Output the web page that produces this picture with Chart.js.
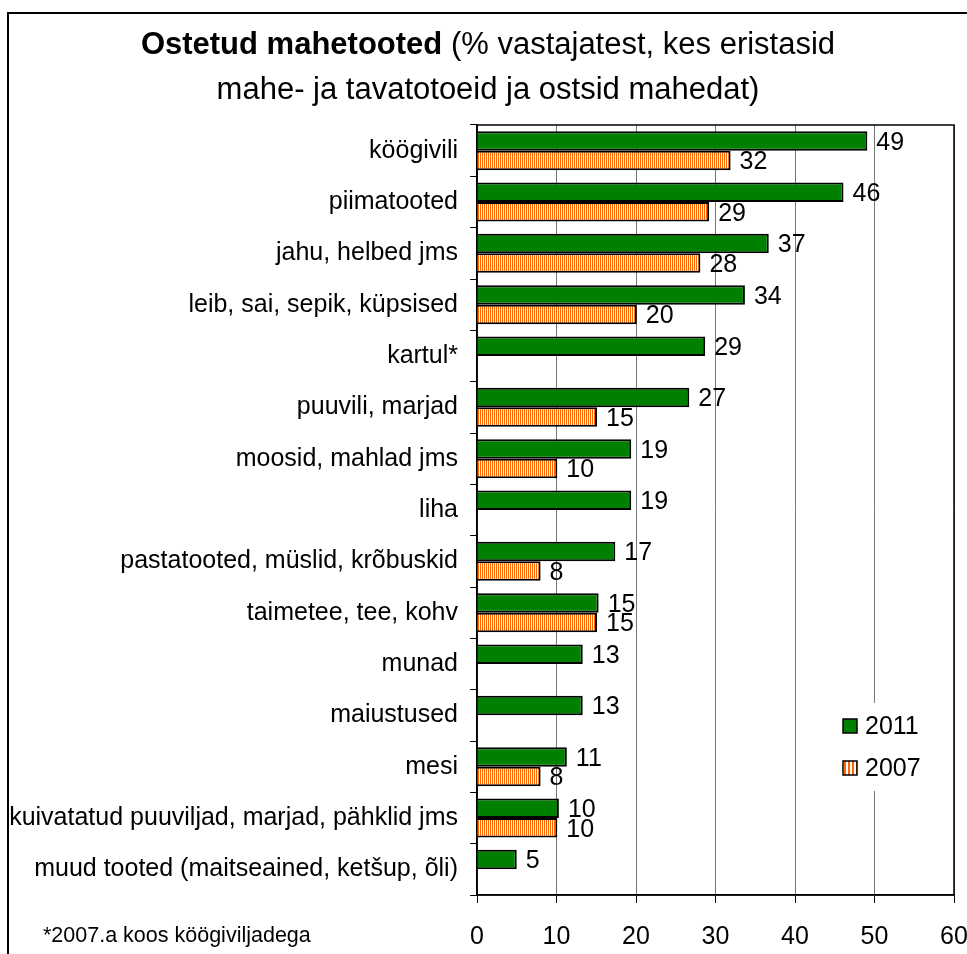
<!DOCTYPE html>
<html>
<head>
<meta charset="utf-8">
<script src="https://cdn.jsdelivr.net/npm/chart.js@4"></script>
<style>
  html, body { margin: 0; padding: 0; background: #fff; }
  body { width: 967px; height: 954px; position: relative; overflow: hidden; font-family: "Liberation Sans", Arial, sans-serif; }
  #frame { position: absolute; left: 7px; top: 12px; width: 990px; height: 990px; border: 2px solid #000; box-sizing: border-box; pointer-events: none; }
  #title { position: absolute; left: 0; top: 21px; width: 976px; text-align: center; font-size: 31px; line-height: 45px; color: #000; }
  #note { position: absolute; left: 43px; top: 925px; font-size: 21.5px; line-height: 21px; color: #000; }
  #wrap { position: absolute; left: 0; top: 0; width: 967px; height: 954px; }
</style>
</head>
<body>
<div id="wrap"><canvas id="chart"></canvas></div>
<div id="frame"></div>
<div id="title"><b>Ostetud mahetooted</b> (% vastajatest, kes eristasid<br>mahe- ja tavatotoeid ja ostsid mahedat)</div>
<div id="note">*2007.a koos köögiviljadega</div>
<script>
const categories = [
  "köögivili",
  "piimatooted",
  "jahu, helbed jms",
  "leib, sai, sepik, küpsised",
  "kartul*",
  "puuvili, marjad",
  "moosid, mahlad jms",
  "liha",
  "pastatooted, müslid, krõbuskid",
  "taimetee, tee, kohv",
  "munad",
  "maiustused",
  "mesi",
  "kuivatatud puuviljad, marjad, pähklid jms",
  "muud tooted (maitseained, ketšup, õli)"
];
const series2011 = [49.1, 46.1, 36.7, 33.7, 28.7, 26.7, 19.4, 19.4, 17.4, 15.3, 13.3, 13.3, 11.3, 10.3, 5.0];
const series2007 = [31.9, 29.2, 28.1, 20.1, null, 15.1, 10.1, null, 8.0, 15.1, null, null, 8.0, 10.1, null];
const seriesNames = ["2011", "2007"];
const xMin = 0, xMax = 60, xStep = 10;

const FONT = "'Liberation Sans', Arial, sans-serif";
const GREEN = "#008000";
const ORANGE = "#FF6600";

// vertical orange/white stripes for 2007
function stripes(orange, white) {
  const c = document.createElement("canvas");
  c.width = orange + white; c.height = 1;
  const g = c.getContext("2d");
  g.fillStyle = ORANGE; g.fillRect(0, 0, orange, 1);
  g.fillStyle = "#fff"; g.fillRect(orange, 0, white, 1);
  return g.createPattern(c, "repeat");
}
const stripeFill = stripes(1, 1);
const legendStripe = stripes(2, 2);

const plotFrame = {
  id: "plotFrame",
  beforeDatasetsDraw(chart) {
    const { ctx, chartArea: a } = chart;
    ctx.save();
    ctx.strokeStyle = "#000";
    ctx.lineWidth = 1.5;
    ctx.strokeRect(a.left, a.top, a.right - a.left, a.bottom - a.top);
    ctx.restore();
  }
};

const valueLabels = {
  id: "valueLabels",
  afterDatasetsDraw(chart) {
    const ctx = chart.ctx;
    ctx.save();
    ctx.font = "25px " + FONT;
    ctx.fillStyle = "#000";
    ctx.textAlign = "left";
    ctx.textBaseline = "middle";
    chart.data.datasets.forEach((ds, i) => {
      chart.getDatasetMeta(i).data.forEach((el, j) => {
        const v = ds.data[j];
        if (v === null || v === undefined) return;
        ctx.fillText(String(Math.round(v)), el.x + 9, el.y + 2);
      });
    });
    ctx.restore();
  }
};

const boxLegend = {
  id: "boxLegend",
  afterDraw(chart) {
    const ctx = chart.ctx;
    const a = chart.chartArea;
    const x = a.right - 111, y = a.top + 594;
    ctx.save();
    ctx.fillStyle = "#fff";
    ctx.fillRect(x - 8, y - 16, 108, 88);
    ctx.font = "25px " + FONT;
    ctx.textBaseline = "middle";
    chart.data.datasets.forEach((ds, i) => {
      const yy = y + i * 42;
      ctx.fillStyle = i === 1 ? legendStripe : ds.backgroundColor;
      ctx.fillRect(x, yy, 14, 14);
      ctx.strokeStyle = "#000";
      ctx.lineWidth = 1.5;
      ctx.strokeRect(x, yy, 14, 14);
      ctx.fillStyle = "#000";
      ctx.fillText(ds.label, x + 22, yy + 8);
    });
    ctx.restore();
  }
};

new Chart(document.getElementById("chart"), {
  type: "bar",
  data: {
    labels: categories,
    datasets: [
      { label: seriesNames[0], data: series2011, backgroundColor: GREEN, borderColor: "#000", borderWidth: 2 },
      { label: seriesNames[1], data: series2007, backgroundColor: stripeFill, borderColor: "#000", borderWidth: 2 }
    ]
  },
  options: {
    indexAxis: "y",
    responsive: true,
    maintainAspectRatio: false,
    animation: false,
    categoryPercentage: 0.76,
    barPercentage: 1.0,
    layout: { padding: { top: 125, left: 0, right: 13, bottom: 0 } },
    plugins: { legend: { display: false }, tooltip: { enabled: false }, title: { display: false } },
    scales: {
      x: {
        min: xMin, max: xMax,
        ticks: { stepSize: xStep, color: "#000", font: { family: FONT, size: 25 }, padding: 19, maxRotation: 0 },
        grid: { color: "#777", lineWidth: 1, tickLength: 8, tickColor: "#000" },
        border: { display: true, color: "#000", width: 1.5 },
        afterFit(s) { s.height = 59; s.paddingLeft = 0; s.paddingRight = 0; }
      },
      y: {
        ticks: { color: "#000", font: { family: FONT, size: 25 }, padding: 12, autoSkip: false },
        grid: { drawOnChartArea: false, offset: true, tickLength: 7, tickColor: "#000" },
        border: { display: true, color: "#000", width: 1.5 },
        afterFit(s) { s.width = 477; }
      }
    }
  },
  plugins: [plotFrame, valueLabels, boxLegend]
});
</script>
</body>
</html>
